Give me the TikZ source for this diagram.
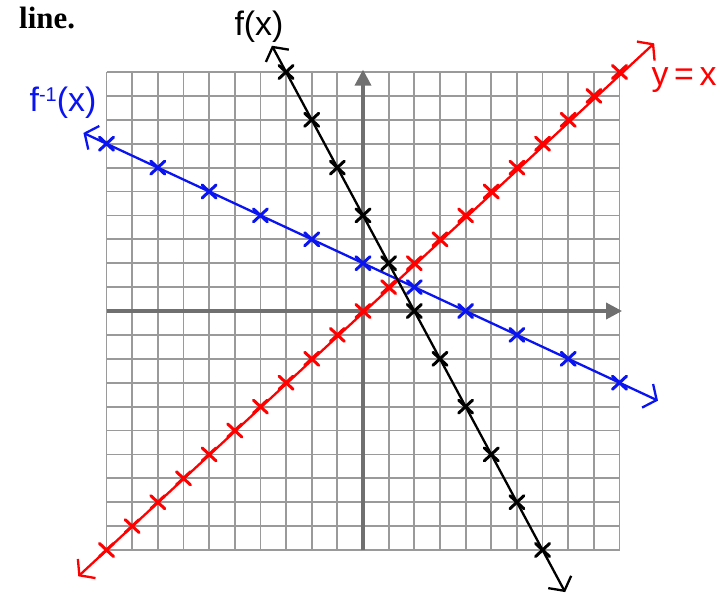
\documentclass[tikz,border=0pt]{standalone}
\usepackage{fontspec}
\setmainfont{Liberation Serif}
\newfontfamily\hand{Liberation Sans}
\usetikzlibrary{arrows.meta}
\definecolor{gridc}{HTML}{9A9A9A}
\definecolor{axisc}{HTML}{707070}
\definecolor{myred}{HTML}{FF0000}
\definecolor{myblue}{HTML}{0A14F0}
\begin{document}
\begin{tikzpicture}[x=1bp,y=-1bp,
 gridline/.style={gridc,line width=1.8bp},
 axisline/.style={axisc,line width=3.5bp,-{Triangle[length=16bp,width=16bp]}},
 curve/.style={line width=2.3bp,{Straight Barb[length=10bp,width=26bp]}-{Straight Barb[length=10bp,width=26bp]}},
 xm/.pic={\draw[line width=3bp,line cap=round] (-7bp,-6.5bp)--(7bp,6.5bp) (-7bp,6.5bp)--(7bp,-6.5bp);},
 lab/.style={font=\hand\fontsize{34}{36}\selectfont, inner sep=0pt},
]
\useasboundingbox (0,0) rectangle (727,593);
\node[font=\bfseries\fontsize{31}{33}\selectfont,anchor=base west,inner sep=0pt] (title) at (19,29) {line.};
\begin{scope}[shift={(363bp,-311bp)},x=25.65bp,y=23.9bp]
 \foreach \i in {-10,...,10} {
   \draw[gridline] (\i,-10) -- (\i,10);
   \draw[gridline] (-10,\i) -- (10,\i);
 }
 \coordinate (xl) at (-10,0); \coordinate (xr) at (10.1,0);
 \coordinate (yb) at (0,-10); \coordinate (yt) at (0,10.1);
 \draw[axisline] (xl) -- (xr);
 \draw[axisline] (yb) -- (yt);
 % y = x
 \coordinate (r1) at (-11.1,-11.1); \coordinate (r2) at (11.35,11.2);
 \draw[curve,myred] (r1) -- (r2);
 \foreach \k in {-10,...,10} \pic[myred] at (\k,\k) {xm};
 % f^{-1}
 \coordinate (b1) at (-10.9,7.45); \coordinate (b2) at (11.5,-3.75);
 \draw[curve,myblue] (b1) -- (b2);
 \foreach \k in {-10,-8,...,10} \pic[myblue] at (\k,{2-\k/2}) {xm};
 % f
 \coordinate (k1) at (-3.55,11.1); \coordinate (k2) at (7.88,-11.76);
 \draw[curve,black] (k1) -- (k2);
 \foreach \k in {-3,...,7} \pic[black] at (\k,{4-2*\k}) {xm};
\end{scope}
\node[lab,black] (flab) at (259,27) {f(x)};
\node[lab,myblue] (finv) at (63,103) {f\raisebox{0.55ex}{\fontsize{20}{20}\selectfont -1}(x)};
\node[lab,myred] (idlab) at (684,80) {y\,=\,x};
\end{tikzpicture}
\end{document}
